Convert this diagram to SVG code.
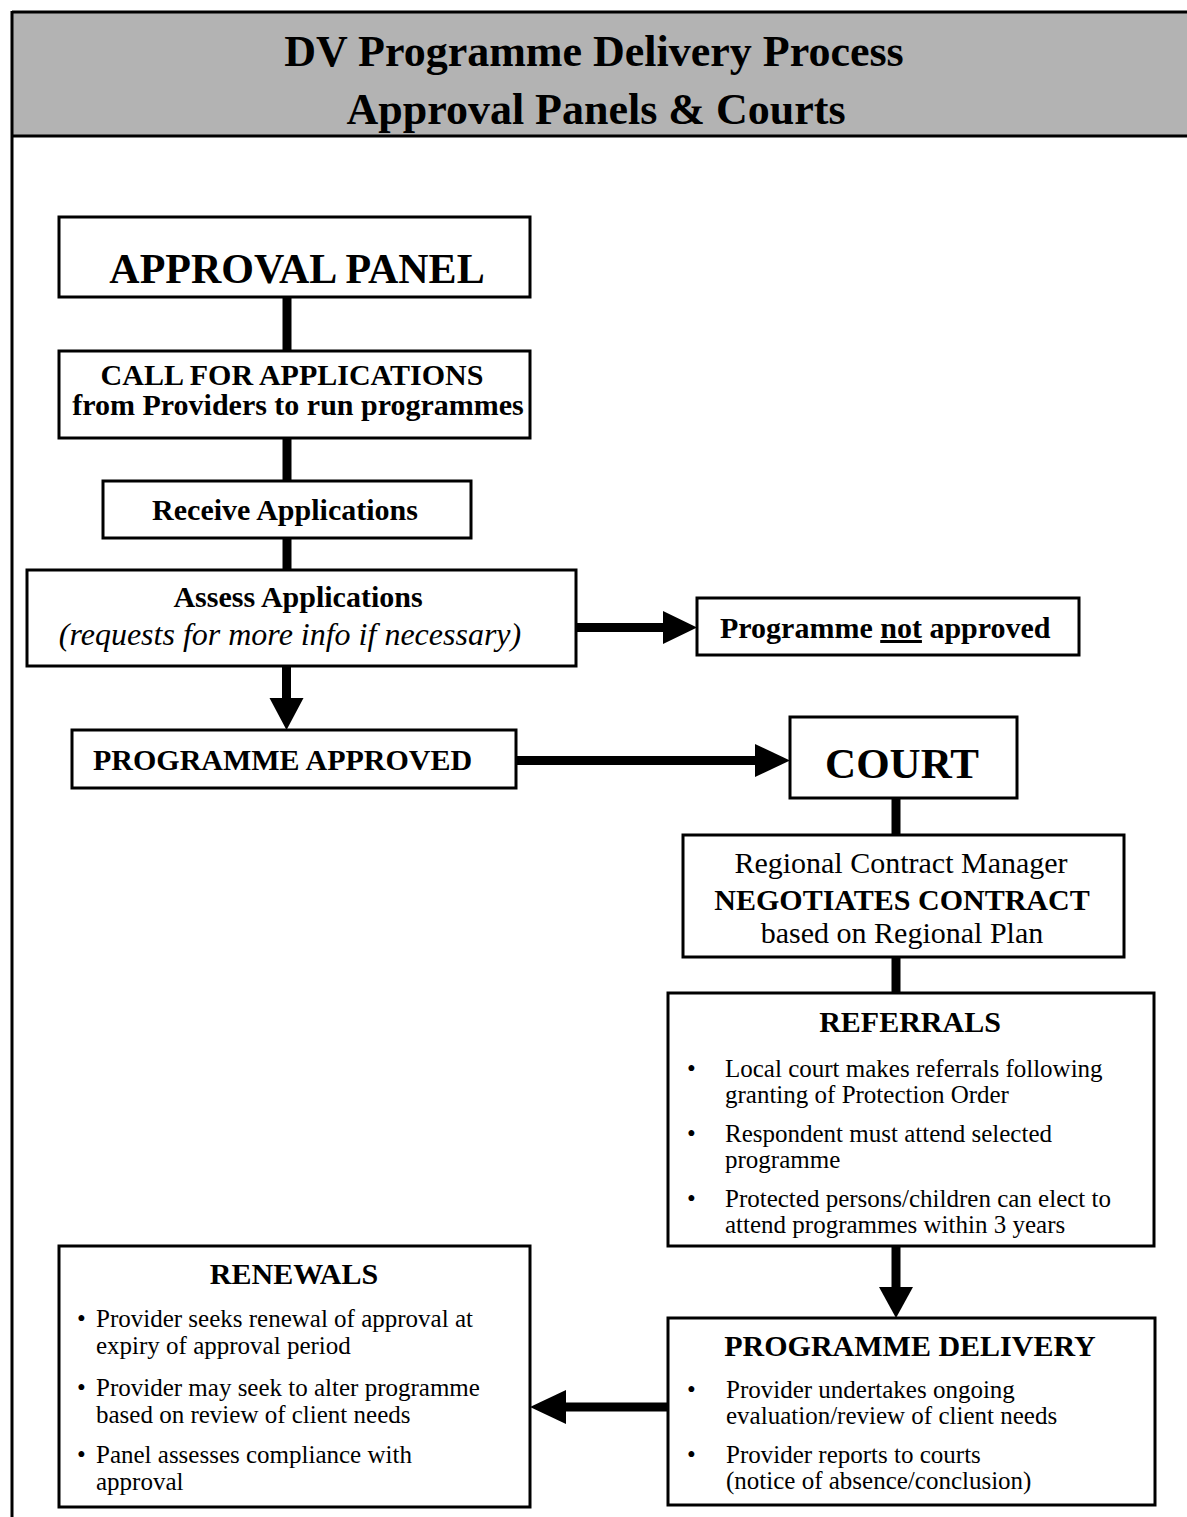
<svg xmlns="http://www.w3.org/2000/svg" width="1187" height="1517" viewBox="0 0 1187 1517">
<defs>
<style>
.box{fill:#fff;stroke:#000;stroke-width:3}
.t{font-family:"Liberation Serif","Times New Roman",serif;fill:#000}
.b{font-weight:bold}
.c{text-anchor:middle}
.line{stroke:#000;stroke-width:9;fill:none}
.head{fill:#000}
.s{font-size:30px}
.p{font-size:25px}
</style>
</defs>
<rect width="1187" height="1517" fill="#fff"/>
<g id="frame">
<rect x="12" y="12" width="1180" height="124" fill="#b3b3b3"/>
<line x1="12" y1="12" x2="1187" y2="12" stroke="#000" stroke-width="3"/>
<line x1="12" y1="136" x2="1187" y2="136" stroke="#000" stroke-width="3"/>
<line x1="12" y1="11" x2="12" y2="1517" stroke="#000" stroke-width="3"/>
<text class="t b c" x="594" y="66" font-size="44">DV Programme Delivery Process</text>
<text class="t b c" x="596" y="124" font-size="44">Approval Panels &amp; Courts</text>
</g>
<g id="connectors">
<line class="line" x1="287" y1="297" x2="287" y2="351"/>
<line class="line" x1="287" y1="438" x2="287" y2="481"/>
<line class="line" x1="287" y1="538" x2="287" y2="570"/>
<line class="line" x1="576" y1="627.5" x2="666" y2="627.5"/>
<polygon class="head" points="663,611 697,627.5 663,644"/>
<line class="line" x1="286.5" y1="666" x2="286.5" y2="701"/>
<polygon class="head" points="269.5,698 286.5,730 303.5,698"/>
<line class="line" x1="516" y1="760.5" x2="758" y2="760.5"/>
<polygon class="head" points="755,744 790,760.5 755,777"/>
<line class="line" x1="896" y1="798" x2="896" y2="835"/>
<line class="line" x1="896" y1="957" x2="896" y2="993"/>
<line class="line" x1="896" y1="1246" x2="896" y2="1290"/>
<polygon class="head" points="879,1287 896,1318 913,1287"/>
<line class="line" x1="668" y1="1407" x2="563" y2="1407"/>
<polygon class="head" points="566,1390 530,1407 566,1424"/>
</g>
<g id="approval-panel">
<rect class="box" x="59" y="217" width="471" height="80"/>
<text class="t b c" x="297" y="283" font-size="42">APPROVAL PANEL</text>
</g>
<g id="call-for-applications">
<rect class="box" x="59" y="351" width="471" height="87"/>
<text class="t b c s" x="292" y="385">CALL FOR APPLICATIONS</text>
<text class="t b c s" x="298" y="415">from Providers to run programmes</text>
</g>
<g id="receive-applications">
<rect class="box" x="103" y="481" width="368" height="57"/>
<text class="t b c s" x="285" y="520">Receive Applications</text>
</g>
<g id="assess-applications">
<rect class="box" x="27" y="570" width="549" height="96"/>
<text class="t b c s" x="298" y="607">Assess Applications</text>
<text class="t c" x="290" y="645" font-size="32" font-style="italic">(requests for more info if necessary)</text>
</g>
<g id="not-approved">
<rect class="box" x="697" y="598" width="382" height="57"/>
<text class="t b s" x="720" y="638">Programme <tspan text-decoration="underline">not</tspan> approved</text>
</g>
<g id="programme-approved">
<rect class="box" x="72" y="730" width="444" height="58"/>
<text class="t b s" x="93" y="770">PROGRAMME APPROVED</text>
</g>
<g id="court">
<rect class="box" x="790" y="717" width="227" height="81"/>
<text class="t b c" x="902" y="778" font-size="43">COURT</text>
</g>
<g id="contract-manager">
<rect class="box" x="683" y="835" width="441" height="122"/>
<text class="t c s" x="901" y="873">Regional Contract Manager</text>
<text class="t b c s" x="902" y="910">NEGOTIATES CONTRACT</text>
<text class="t c s" x="902" y="943">based on Regional Plan</text>
</g>
<g id="referrals">
<rect class="box" x="668" y="993" width="486" height="253"/>
<text class="t b c s" x="910" y="1032">REFERRALS</text>
<g class="t p">
<text x="687" y="1077">•</text>
<text x="725" y="1077">Local court makes referrals following</text>
<text x="725" y="1103">granting of Protection Order</text>
<text x="687" y="1142">•</text>
<text x="725" y="1142">Respondent must attend selected</text>
<text x="725" y="1168">programme</text>
<text x="687" y="1207">•</text>
<text x="725" y="1207">Protected persons/children can elect to</text>
<text x="725" y="1233">attend programmes within 3 years</text>
</g>
</g>
<g id="programme-delivery">
<rect class="box" x="668" y="1318" width="487" height="187"/>
<text class="t b c s" x="910" y="1356">PROGRAMME DELIVERY</text>
<g class="t p">
<text x="687" y="1398">•</text>
<text x="726" y="1398">Provider undertakes ongoing</text>
<text x="726" y="1424">evaluation/review of client needs</text>
<text x="687" y="1463">•</text>
<text x="726" y="1463">Provider reports to courts</text>
<text x="726" y="1489">(notice of absence/conclusion)</text>
</g>
</g>
<g id="renewals">
<rect class="box" x="59" y="1246" width="471" height="261"/>
<text class="t b c s" x="294" y="1284">RENEWALS</text>
<g class="t p">
<text x="77" y="1327">•</text>
<text x="96" y="1327">Provider seeks renewal of approval at</text>
<text x="96" y="1354">expiry of approval period</text>
<text x="77" y="1396">•</text>
<text x="96" y="1396">Provider may seek to alter programme</text>
<text x="96" y="1423">based on review of client needs</text>
<text x="77" y="1463">•</text>
<text x="96" y="1463">Panel assesses compliance with</text>
<text x="96" y="1490">approval</text>
</g>
</g>
</svg>
